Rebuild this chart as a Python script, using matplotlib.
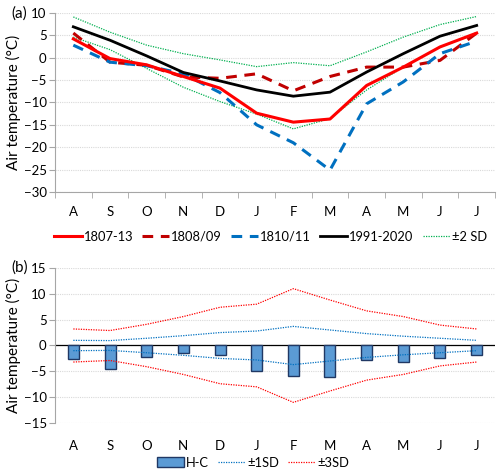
import numpy as np
import matplotlib
matplotlib.use("Agg")
import matplotlib.pyplot as plt
from matplotlib.ticker import FixedLocator

plt.rcParams['font.family'] = ['Lato', 'DejaVu Sans']
plt.rcParams['font.size'] = 9.5

# =========================
# Data
# =========================
months = ["A", "S", "O", "N", "D", "J", "F", "M", "A", "M", "J", "J"]

t_1807_13 = [4.2, -0.2, -1.6, -4.2, -6.8, -12.4, -14.4, -13.7, -6.2, -2.1, 2.4, 5.5]
t_1808_09 = [5.5, -1.0, -1.7, -4.3, -4.6, -3.6, -7.4, -4.2, -2.1, -2.1, -0.6, 5.5]
t_1810_11 = [2.8, -1.0, -1.8, -3.6, -7.8, -15.0, -19.0, -25.1, -10.3, -5.4, 0.9, 3.7]
t_1991_2020 = [6.9, 3.9, 0.4, -3.3, -5.2, -7.2, -8.6, -7.7, -3.2, 0.9, 4.8, 7.2]
sd2_upper = [9.1, 5.7, 2.8, 0.9, -0.5, -2.0, -1.1, -1.8, 1.3, 4.6, 7.4, 9.2]
sd2_lower = [4.6, 1.8, -2.4, -6.6, -9.8, -12.6, -15.9, -13.6, -7.2, -2.1, 2.4, 5.4]

h_minus_c = [-2.7, -4.6, -2.2, -1.4, -1.9, -4.9, -6.0, -6.1, -2.9, -3.1, -2.5, -1.9]
sd1 = [1.0, 0.95, 1.4, 1.9, 2.5, 2.8, 3.7, 3.0, 2.3, 1.8, 1.4, 1.0]
sd3 = [3.2, 2.9, 4.1, 5.6, 7.4, 8.0, 11.0, 8.8, 6.7, 5.6, 3.95, 3.2]

x = np.arange(len(months))
grey = "#A6A6A6"

fig = plt.figure(figsize=(5.0, 4.7), dpi=100)

# =========================
# (a) monthly temperatures
# =========================
ax1 = fig.add_axes([0.11, 0.5915, 0.88, 0.381])
ax1.plot(x, sd2_upper, color="#00B050", lw=0.9, ls=(0, (1, 1)), zorder=3)
ax1.plot(x, sd2_lower, color="#00B050", lw=0.9, ls=(0, (1, 1)), zorder=3)
l1, = ax1.plot(x, t_1807_13, color="#FF0000", lw=2.2, label="1807-13", zorder=5)
l2, = ax1.plot(x, t_1808_09, color="#C00000", lw=2.2, ls=(0, (3.5, 2.5)), label="1808/09", zorder=4)
l3, = ax1.plot(x, t_1810_11, color="#0070C0", lw=2.2, ls=(0, (3.5, 2.5)), label="1810/11", zorder=4)
l4, = ax1.plot(x, t_1991_2020, color="black", lw=2.0, label="1991-2020", zorder=4)
l5, = ax1.plot([], [], color="#00B050", lw=0.9, ls=(0, (1, 1)), label="±2 SD")

ax1.set_xlim(-0.5, 11.5)
ax1.set_ylim(-30, 10)
ax1.set_yticks(np.arange(-30, 11, 5))
ax1.set_xticks(x)
ax1.set_xticklabels(months)
ax1.xaxis.set_minor_locator(FixedLocator(np.arange(-0.5, 12, 1)))
ax1.tick_params(axis="x", which="major", length=0, pad=10)
ax1.tick_params(axis="x", which="minor", length=4, color=grey)
ax1.tick_params(axis="y", length=4, color=grey, pad=2)
ax1.grid(axis="y", color="#D9D9D9", ls=(0, (1, 1)), lw=0.8)
ax1.set_axisbelow(True)
for s in ["top", "right"]:
    ax1.spines[s].set_visible(False)
ax1.spines["left"].set_color(grey)
ax1.spines["bottom"].set_color(grey)
ax1.set_ylabel("Air temperature (°C)", fontsize=11, labelpad=2)
fig.text(0.022, 0.972, "(a)", fontsize=11, va="center")

ax1.legend(handles=[l1, l2, l3, l4, l5], loc="center", bbox_to_anchor=(0.49, -0.25),
           ncol=5, frameon=False, handlelength=2.1, handletextpad=0.15,
           columnspacing=0.7, borderpad=0.1, fontsize=9.3)

# =========================
# (b) difference H-C
# =========================
ax2 = fig.add_axes([0.11, 0.100, 0.88, 0.3298])
b1 = ax2.bar(x, h_minus_c, width=0.3, color="#5B9BD5", edgecolor="#203864", lw=1.0,
             label="H-C", zorder=3)
m1, = ax2.plot(x, sd1, color="#0070C0", lw=0.9, ls=(0, (1, 1)), label="±1SD", zorder=4)
ax2.plot(x, -np.array(sd1), color="#0070C0", lw=0.9, ls=(0, (1, 1)), zorder=4)
m3, = ax2.plot(x, sd3, color="#FF0000", lw=0.9, ls=(0, (1, 1)), label="±3SD", zorder=4)
ax2.plot(x, -np.array(sd3), color="#FF0000", lw=0.9, ls=(0, (1, 1)), zorder=4)
ax2.axhline(0, color="black", lw=0.9, zorder=2)

ax2.set_xlim(-0.5, 11.5)
ax2.set_ylim(-15, 15)
ax2.set_yticks(np.arange(-15, 16, 5))
ax2.set_xticks(x)
ax2.set_xticklabels(months)
ax2.tick_params(axis="x", length=0, pad=12)
ax2.tick_params(axis="y", length=4, color=grey, pad=2)
ax2.grid(axis="y", color="#D9D9D9", ls=(0, (1, 1)), lw=0.8)
ax2.set_axisbelow(True)
for s in ["top", "right", "bottom"]:
    ax2.spines[s].set_visible(False)
ax2.spines["left"].set_color(grey)
ax2.set_ylabel("Air temperature (°C)", fontsize=11, labelpad=2)
fig.text(0.022, 0.43, "(b)", fontsize=11, va="center")

ax2.legend(handles=[b1, m1, m3], loc="center", bbox_to_anchor=(0.45, -0.255),
           ncol=3, frameon=False, handlelength=2.1, handletextpad=0.15,
           columnspacing=0.7, borderpad=0.1, fontsize=9.3)

fig.savefig("out.png", dpi=100)
